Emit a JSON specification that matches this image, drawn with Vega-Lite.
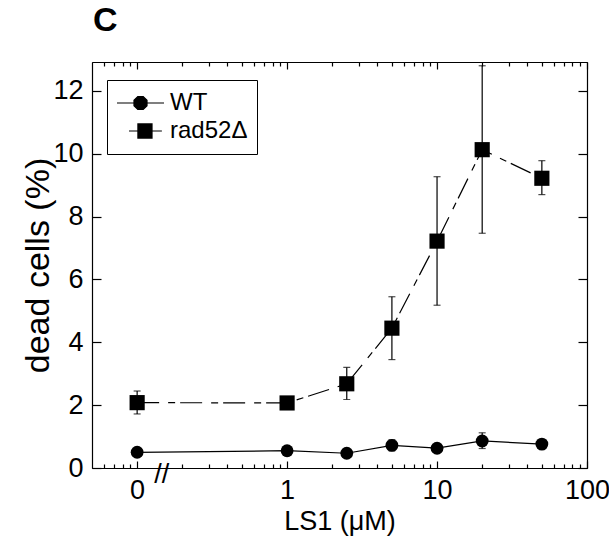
{
  "$schema": "https://vega.github.io/schema/vega-lite/v6.json",
  "width": 495,
  "height": 406,
  "autosize": {"type": "none"},
  "padding": {"left": 92, "top": 62, "right": 22, "bottom": 75},
  "background": "white",
  "title": {"text": "C", "anchor": "start", "frame": "group", "fontSize": 34, "fontWeight": "bold", "font": "Liberation Sans", "color": "black", "offset": 23, "dx": 1},
  "datasets": {
    "cells": [
      {"series": "WT", "LS1": 0.1, "pct": 0.5, "lo": 0.44, "hi": 0.56},
      {"series": "WT", "LS1": 1, "pct": 0.55, "lo": 0.48, "hi": 0.62},
      {"series": "WT", "LS1": 2.5, "pct": 0.47, "lo": 0.4, "hi": 0.54},
      {"series": "WT", "LS1": 5, "pct": 0.72, "lo": 0.55, "hi": 0.9},
      {"series": "WT", "LS1": 10, "pct": 0.63, "lo": 0.55, "hi": 0.71},
      {"series": "WT", "LS1": 20, "pct": 0.86, "lo": 0.62, "hi": 1.12},
      {"series": "WT", "LS1": 50, "pct": 0.76, "lo": 0.68, "hi": 0.84},
      {"series": "rad52Δ", "LS1": 0.1, "pct": 2.08, "lo": 1.72, "hi": 2.45},
      {"series": "rad52Δ", "LS1": 1, "pct": 2.07, "lo": 2.0, "hi": 2.14},
      {"series": "rad52Δ", "LS1": 2.5, "pct": 2.68, "lo": 2.18, "hi": 3.2},
      {"series": "rad52Δ", "LS1": 5, "pct": 4.45, "lo": 3.45, "hi": 5.45},
      {"series": "rad52Δ", "LS1": 10, "pct": 7.22, "lo": 5.18, "hi": 9.27},
      {"series": "rad52Δ", "LS1": 20, "pct": 10.13, "lo": 7.47, "hi": 12.8},
      {"series": "rad52Δ", "LS1": 50, "pct": 9.22, "lo": 8.7, "hi": 9.78}
    ]
  },
  "data": {"name": "cells"},
  "resolve": {"axis": {"x": "independent", "y": "independent"}},
  "layer": [
    {
      "mark": {"type": "rule", "color": "black", "strokeWidth": 1.2},
      "encoding": {
        "x": {"field": "LS1", "type": "quantitative", "scale": {"type": "log", "domain": [0.05, 100], "nice": false},
          "axis": {"orient": "bottom", "values": [0.1, 1, 10, 100], "tickSize": -7, "labelPadding": 16, "labelExpr": "datum.value < 0.5 ? '0' : datum.value + ''", "labelOverlap": false, "labelFlush": false, "title": "LS1 (μM)", "titlePadding": 5}},
        "y": {"field": "lo", "type": "quantitative", "scale": {"domain": [0, 12.92], "nice": false, "zero": false},
          "axis": {"orient": "left", "values": [0, 2, 4, 6, 8, 10, 12], "tickSize": -9, "labelPadding": 18, "labelOverlap": false, "labelFlush": false, "title": "dead cells (%)", "titleFontSize": 34, "titlePadding": -3}},
        "y2": {"field": "hi"}
      }
    },
    {
      "mark": {"type": "tick", "orient": "horizontal", "color": "black", "size": 7, "thickness": 1.2},
      "encoding": {
        "x": {"field": "LS1", "type": "quantitative", "scale": {"type": "log", "domain": [0.05, 100], "nice": false},
          "axis": {"orient": "top", "values": [0.1, 1, 10, 100], "tickSize": -7, "labels": false, "title": null}},
        "y": {"field": "lo", "type": "quantitative", "scale": {"domain": [0, 12.92], "nice": false, "zero": false},
          "axis": {"orient": "right", "values": [0, 2, 4, 6, 8, 10, 12], "tickSize": -9, "labels": false, "title": null}}
      }
    },
    {
      "mark": {"type": "tick", "orient": "horizontal", "color": "black", "size": 7, "thickness": 1.2},
      "encoding": {
        "x": {"field": "LS1", "type": "quantitative", "scale": {"type": "log", "domain": [0.05, 100], "nice": false},
          "axis": {"orient": "bottom", "values": [0.06, 0.07, 0.08, 0.09, 0.2, 0.3, 0.4, 0.5, 0.6, 0.7, 0.8, 0.9, 2, 3, 4, 5, 6, 7, 8, 9, 20, 30, 40, 50, 60, 70, 80, 90], "tickSize": -4, "labels": false, "title": null}},
        "y": {"field": "hi", "type": "quantitative", "scale": {"domain": [0, 12.92], "nice": false, "zero": false}, "axis": null}
      }
    },
    {
      "transform": [{"filter": "datum.series === 'WT'"}],
      "mark": {"type": "line", "color": "black", "strokeWidth": 1.2},
      "encoding": {
        "x": {"field": "LS1", "type": "quantitative", "scale": {"type": "log", "domain": [0.05, 100], "nice": false},
          "axis": {"orient": "top", "values": [0.06, 0.07, 0.08, 0.09, 0.2, 0.3, 0.4, 0.5, 0.6, 0.7, 0.8, 0.9, 2, 3, 4, 5, 6, 7, 8, 9, 20, 30, 40, 50, 60, 70, 80, 90], "tickSize": -4, "labels": false, "title": null}},
        "y": {"field": "pct", "type": "quantitative", "scale": {"domain": [0, 12.92], "nice": false, "zero": false}, "axis": null}
      }
    },
    {
      "transform": [{"filter": "datum.series === 'rad52Δ'"}],
      "mark": {"type": "line", "color": "black", "strokeWidth": 1.2, "strokeDash": [22, 9, 7, 5]},
      "encoding": {
        "x": {"field": "LS1", "type": "quantitative", "scale": {"type": "log", "domain": [0.05, 100], "nice": false}, "axis": null},
        "y": {"field": "pct", "type": "quantitative", "scale": {"domain": [0, 12.92], "nice": false, "zero": false}, "axis": null}
      }
    },
    {
      "transform": [{"filter": "datum.series === 'WT'"}],
      "mark": {"type": "point", "shape": "circle", "size": 165, "filled": true, "opacity": 1, "color": "black"},
      "encoding": {
        "x": {"field": "LS1", "type": "quantitative", "scale": {"type": "log", "domain": [0.05, 100], "nice": false}, "axis": null},
        "y": {"field": "pct", "type": "quantitative", "scale": {"domain": [0, 12.92], "nice": false, "zero": false}, "axis": null}
      }
    },
    {
      "transform": [{"filter": "datum.series === 'rad52Δ'"}],
      "mark": {"type": "point", "shape": "square", "size": 230, "filled": true, "opacity": 1, "color": "black"},
      "encoding": {
        "x": {"field": "LS1", "type": "quantitative", "scale": {"type": "log", "domain": [0.05, 100], "nice": false}, "axis": null},
        "y": {"field": "pct", "type": "quantitative", "scale": {"domain": [0, 12.92], "nice": false, "zero": false}, "axis": null}
      }
    },
    {
      "mark": {"type": "point", "filled": true, "opacity": 0, "color": "black", "fill": "black", "stroke": "black", "strokeWidth": 1.2},
      "encoding": {
        "x": {"field": "LS1", "type": "quantitative", "scale": {"type": "log", "domain": [0.05, 100], "nice": false}, "axis": null},
        "y": {"field": "pct", "type": "quantitative", "scale": {"domain": [0, 12.92], "nice": false, "zero": false}, "axis": null},
        "shape": {"field": "series", "type": "nominal",
          "scale": {"domain": ["WT", "rad52Δ"], "range": ["M-1,0H1M0.277,0.115L0.115,0.277L-0.115,0.277L-0.277,0.115L-0.277,-0.115L-0.115,-0.277L0.115,-0.277L0.277,-0.115Z", "M-0.49,0H0.91M-0.11,-0.3H0.49V0.3H-0.11Z"]},
          "legend": {
            "orient": "none", "legendX": 15, "legendY": 18, "title": null,
            "padding": 9, "strokeColor": "black", "fillColor": "white", "cornerRadius": 0,
            "symbolSize": 2209, "symbolOpacity": 1, "symbolStrokeWidth": 1.2,
            "clipHeight": 28, "rowPadding": 0, "labelOffset": 5,
            "labelFontSize": 24, "labelFont": "Liberation Sans", "labelColor": "black", "labelLimit": 300
          }}
      }
    },
    {
      "data": {"values": [{"LS1": 0.146, "pct": 0, "mark": "//"}]},
      "mark": {"type": "text", "fontSize": 27, "font": "Liberation Sans", "color": "black", "baseline": "middle", "align": "center", "dy": 7},
      "encoding": {
        "x": {"field": "LS1", "type": "quantitative", "scale": {"type": "log", "domain": [0.05, 100], "nice": false}, "axis": null},
        "y": {"field": "pct", "type": "quantitative", "scale": {"domain": [0, 12.92], "nice": false, "zero": false}, "axis": null},
        "text": {"field": "mark"}
      }
    }
  ],
  "config": {
    "font": "Liberation Sans",
    "view": {"stroke": null},
    "axis": {"grid": false, "domainColor": "black", "domainWidth": 1.2, "tickColor": "black", "tickWidth": 1.2, "labelColor": "black", "labelFontSize": 27, "labelFont": "Liberation Sans", "titleFont": "Liberation Sans", "titleFontSize": 27, "titleFontWeight": "normal", "titleColor": "black"}
  }
}
